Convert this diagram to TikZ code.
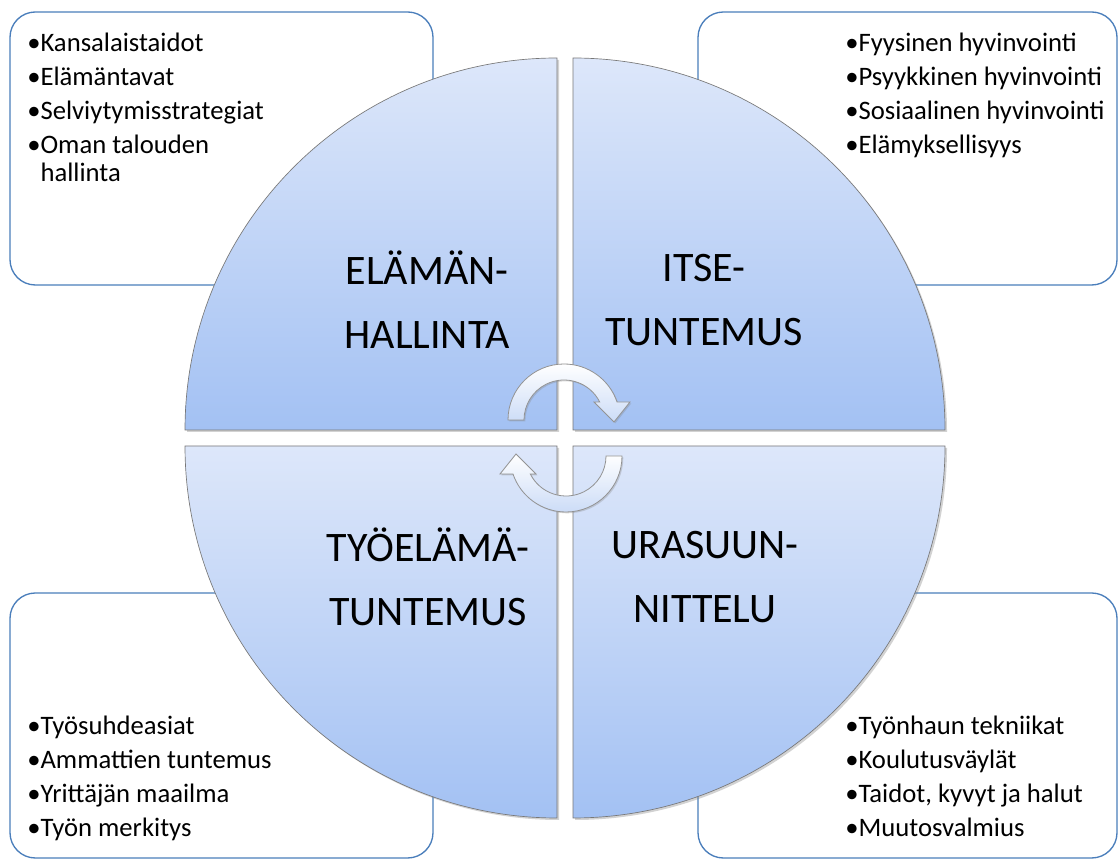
\documentclass[tikz,border=0pt]{standalone}
\usepackage{fontspec}
\setmainfont{Carlito}
\usepackage{tikz}
\usetikzlibrary{shadows}
\definecolor{boxline}{RGB}{74,126,187}
\definecolor{quadtop}{RGB}{221,231,250}
\definecolor{quadbot}{RGB}{163,193,243}
\definecolor{quadline}{RGB}{120,120,120}
\definecolor{arrowbot}{RGB}{204,220,247}
\newcommand{\bigfont}{\fontsize{31.5}{48}\selectfont}
\newcommand{\listfont}{\fontsize{20}{25.5}\selectfont}

\begin{document}
\begin{tikzpicture}[x=0.75pt,y=0.75pt,
  infobox/.style={draw=boxline, line width=1pt, rounded corners=19pt, inner sep=0pt},
  quad/.style={draw=quadline, line width=0.5pt, top color=quadtop, bottom color=quadbot,
    drop shadow={shadow xshift=1.5pt, shadow yshift=-1.5pt, opacity=0.35}},
  quadtext/.style={font=\bigfont, inner sep=0pt, align=center},
  listtext/.style={anchor=base west, inner sep=0pt, font=\listfont},
  arrowfill/.style={draw=quadline!80, line width=0.6pt, top color=white, bottom color=arrowbot,
    drop shadow={shadow xshift=1pt, shadow yshift=-1pt, opacity=0.3}},
  turnarrow/.pic={
    \path[arrowfill] (180:56) arc[start angle=180, end angle=18.75, radius=56]
      -- (66,18) -- (50,-2) -- (30,18) -- (26.74:40)
      arc[start angle=26.74, end angle=180, radius=40] -- cycle;
  }]
\path[fill=white, use as bounding box] (0,0) rectangle (1119,859);

% corner boxes
\node[infobox, minimum width=317.25pt, minimum height=204.75pt] (lifebox) at (221.5,710.5) {};
\node[infobox, minimum width=314.25pt, minimum height=204.75pt] (selfbox) at (907.5,710.5) {};
\node[infobox, minimum width=317.25pt, minimum height=198.75pt] (workbox) at (221.5,133.5) {};
\node[infobox, minimum width=314.25pt, minimum height=198.75pt] (careerbox) at (907.5,133.5) {};

% quarter discs
\path[quad] (557,429) -- ++(-372,0) arc[start angle=180, end angle=90, radius=372] -- cycle;
\path[quad] (573,429) -- ++(0,372) arc[start angle=90, end angle=0, radius=372] -- cycle;
\path[quad] (557,413) -- ++(0,-372) arc[start angle=270, end angle=180, radius=372] -- cycle;
\path[quad] (573,413) -- ++(372,0) arc[start angle=360, end angle=270, radius=372] -- cycle;

\node[quadtext] (lifelabel) at (427,559) {ELÄMÄN-\\HALLINTA};
\node[quadtext] (selflabel) at (704,559) {ITSE-\\TUNTEMUS};
\node[quadtext] (worklabel) at (428,282) {TYÖELÄMÄ-\\TUNTEMUS};
\node[quadtext] (careerlabel) at (705,282) {URASUUN-\\NITTELU};

% lists
\node[listtext] (lifelist) at (27,807) {\begin{tabular}[t]{@{}l@{}l@{}}
•&Kansalaistaidot\\
•&Elämäntavat\\
•&Selviytymisstrategiat\\
•&Oman talouden\\[-4.5pt]
 &hallinta
\end{tabular}};
\node[listtext] (selflist) at (845,807) {\begin{tabular}[t]{@{}l@{}l@{}}
•&Fyysinen hyvinvointi\\
•&Psyykkinen hyvinvointi\\
•&Sosiaalinen hyvinvointi\\
•&Elämyksellisyys
\end{tabular}};
\node[listtext] (worklist) at (27,124) {\begin{tabular}[t]{@{}l@{}l@{}}
•&Työsuhdeasiat\\
•&Ammattien tuntemus\\
•&Yrittäjän maailma\\
•&Työn merkitys
\end{tabular}};
\node[listtext] (careerlist) at (845,124) {\begin{tabular}[t]{@{}l@{}l@{}}
•&Työnhaun tekniikat\\
•&Koulutusväylät\\
•&Taidot, kyvyt ja halut\\
•&Muutosvalmius
\end{tabular}};

% cycle arrows
\pic (toparrow) at (564,439) {turnarrow};
\pic[rotate=180] (botarrow) at (566,403) {turnarrow};
\end{tikzpicture}
\end{document}
